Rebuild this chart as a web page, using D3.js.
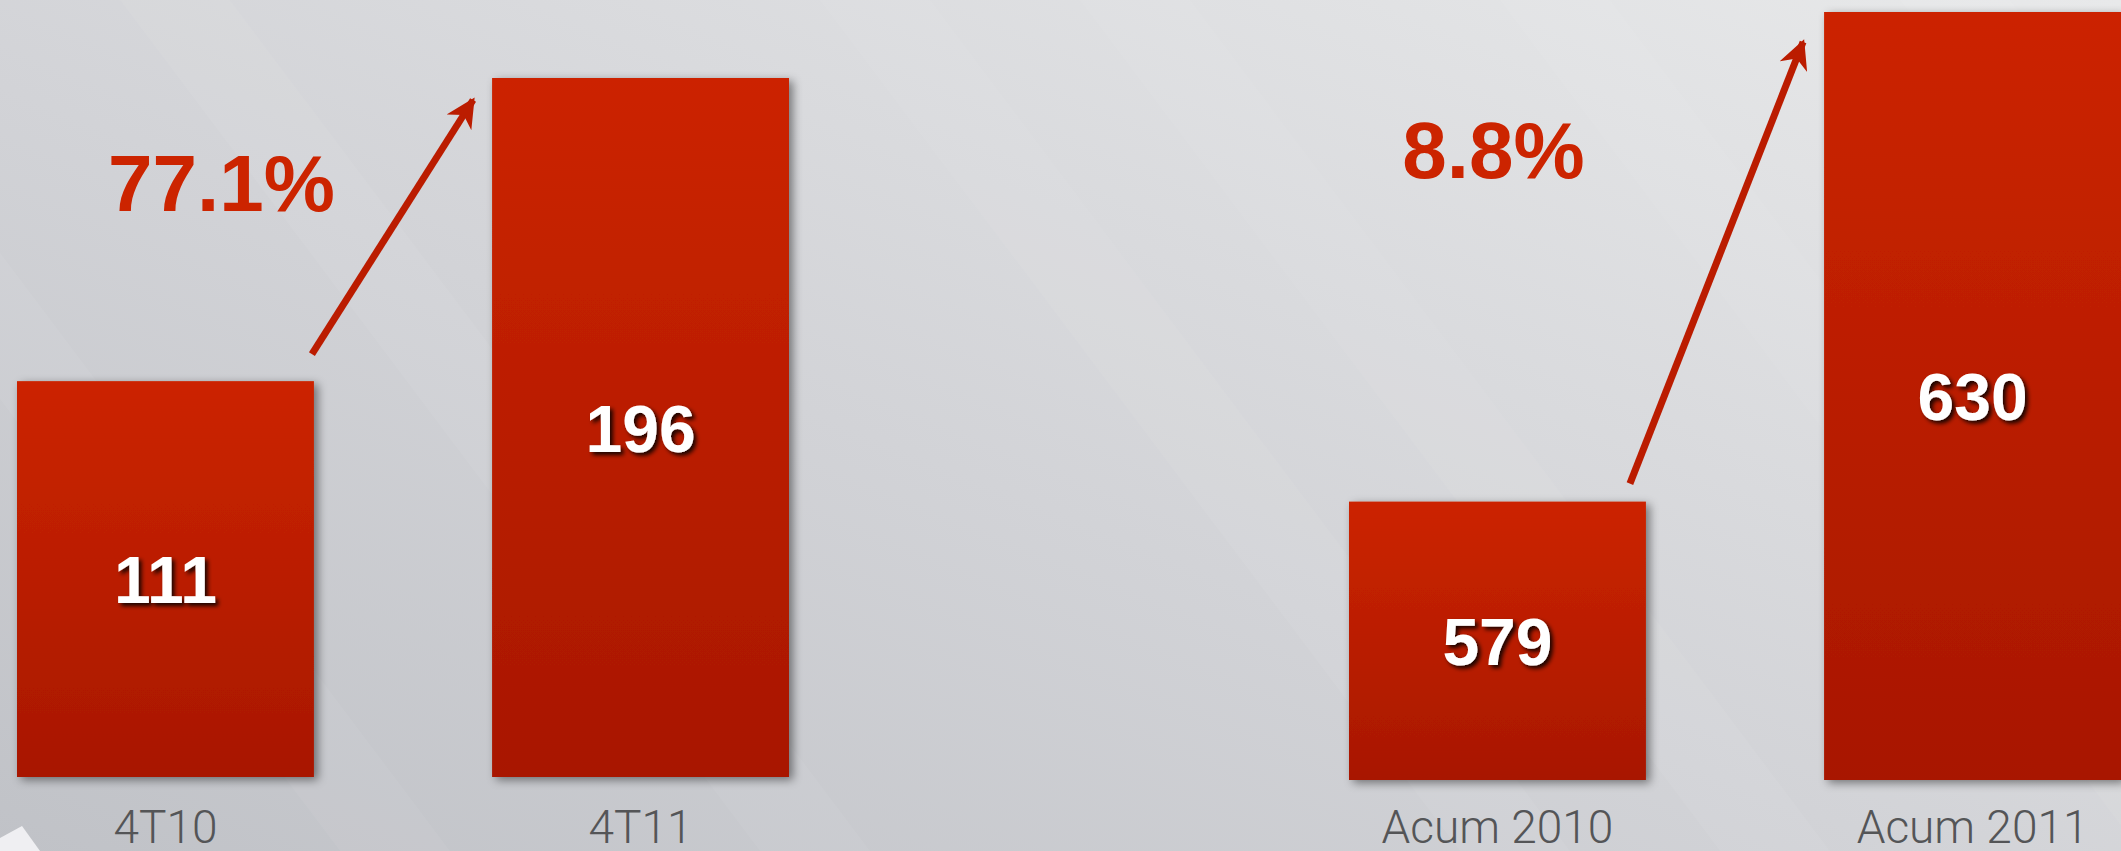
<!DOCTYPE html>
<html>
<head>
<meta charset="utf-8">
<script src="https://cdn.jsdelivr.net/npm/d3@7"></script>
<style>
  html, body { margin: 0; padding: 0; overflow: hidden; }
  svg { display: block; }
</style>
</head>
<body>
<script>
// data
const leftCats = ["4T10", "4T11"];
const leftVals = [111, 196];
const rightCats = ["Acum 2010", "Acum 2011"];
const rightVals = [579, 630];
const growthLabels = ["77.1%", "8.8%"];

const w = 2121, h = 851;

const svg = d3.select("body").append("svg")
  .attr("width", w)
  .attr("height", h);

const defs = svg.append("defs");

const bg = defs.append("linearGradient")
  .attr("id", "bg")
  .attr("x1", "0").attr("y1", "1")
  .attr("x2", "1").attr("y2", "0");
bg.append("stop").attr("offset", "0").attr("stop-color", "#c0c2c7");
bg.append("stop").attr("offset", "0.45").attr("stop-color", "#d2d3d7");
bg.append("stop").attr("offset", "1").attr("stop-color", "#e8e9ea");

const barGrad = defs.append("linearGradient")
  .attr("id", "barGrad")
  .attr("x1", "0").attr("y1", "0")
  .attr("x2", "0").attr("y2", "1");
barGrad.append("stop").attr("offset", "0").attr("stop-color", "#cc2400");
barGrad.append("stop").attr("offset", "1").attr("stop-color", "#a81700");

const shadow = defs.append("filter")
  .attr("id", "shadow")
  .attr("x", "-10%").attr("y", "-10%")
  .attr("width", "130%").attr("height", "130%");
shadow.append("feDropShadow")
  .attr("dx", 4).attr("dy", 3)
  .attr("stdDeviation", 5)
  .attr("flood-color", "#000")
  .attr("flood-opacity", 0.45);

const txtShadow = defs.append("filter")
  .attr("id", "txtShadow")
  .attr("x", "-20%").attr("y", "-20%")
  .attr("width", "150%").attr("height", "150%");
txtShadow.append("feDropShadow")
  .attr("dx", 3).attr("dy", 3)
  .attr("stdDeviation", 2)
  .attr("flood-color", "#000")
  .attr("flood-opacity", 0.85);

defs.append("marker")
  .attr("id", "head")
  .attr("viewBox", "0 0 10 10")
  .attr("refX", 9).attr("refY", 5)
  .attr("markerWidth", 4.2).attr("markerHeight", 4.2)
  .attr("markerUnits", "strokeWidth")
  .attr("orient", "auto")
  .append("path")
  .attr("d", "M0,0 L10,5 L0,10 L3,5 Z")
  .attr("fill", "#bb1c00");

// background
svg.append("rect")
  .attr("width", w).attr("height", h)
  .attr("fill", "url(#bg)");

// faint diagonal light bands
const bands = [-300, 120, 820, 1080, 1500, 1900];
svg.selectAll(".band")
  .data(bands)
  .enter()
  .append("path")
  .attr("class", "band")
  .attr("d", d => "M" + d + ",0 L" + (d + 110) + ",0 L" + (d + 110 + 640) + "," + h + " L" + (d + 640) + "," + h + " Z")
  .attr("fill", "#ffffff")
  .attr("opacity", 0.05);

// little page corner bottom-left
svg.append("path")
  .attr("d", "M0,838 L22,826 L40,851 L0,851 Z")
  .attr("fill", "#f4f4f6")
  .attr("opacity", 0.9);

// scales
const xLeft = d3.scaleBand().domain(leftCats).range([17, 789]).paddingInner(0.375);
const xRight = d3.scaleBand().domain(rightCats).range([1349, 2121]).paddingInner(0.375);
const yLeft = d3.scaleLinear().domain([0, 196]).range([777, 78]);
const yRight = d3.scaleLinear().domain([550, 630]).range([780, 12]);

function drawGroup(cats, vals, x, y, base) {
  const g = svg.append("g");
  const data = cats.map((c, i) => ({ cat: c, val: vals[i] }));

  g.selectAll("rect")
    .data(data)
    .enter()
    .append("rect")
    .attr("x", d => x(d.cat))
    .attr("y", d => y(d.val))
    .attr("width", x.bandwidth())
    .attr("height", d => y(base) - y(d.val))
    .attr("fill", "url(#barGrad)")
    .attr("filter", "url(#shadow)");

  g.selectAll(".val")
    .data(data)
    .enter()
    .append("text")
    .attr("class", "val")
    .attr("x", d => x(d.cat) + x.bandwidth() / 2)
    .attr("y", d => (y(d.val) + y(base)) / 2 + 24)
    .attr("text-anchor", "middle")
    .attr("font-family", "'Liberation Sans', Arial, sans-serif")
    .attr("font-weight", "bold")
    .attr("font-size", 66)
    .attr("fill", "#ffffff")
    .attr("filter", "url(#txtShadow)")
    .text(d => d.val);

  g.selectAll(".cat")
    .data(data)
    .enter()
    .append("text")
    .attr("class", "cat")
    .attr("x", d => x(d.cat) + x.bandwidth() / 2)
    .attr("y", 843)
    .attr("text-anchor", "middle")
    .attr("font-family", "Roboto, 'Liberation Sans', sans-serif")
    .attr("font-weight", 300)
    .attr("font-size", 46)
    .attr("fill", "#545557")
    .text(d => d.cat);

  return data;
}

drawGroup(leftCats, leftVals, xLeft, yLeft, 0);
drawGroup(rightCats, rightVals, xRight, yRight, 550);

// arrows from the top of the first bar towards the second one
const arrows = [
  { x1: xLeft(leftCats[0]) + xLeft.bandwidth() - 2, y1: yLeft(leftVals[0]) - 27,
    x2: xLeft(leftCats[1]) - 19, y2: yLeft(leftVals[1]) + 22 },
  { x1: xRight(rightCats[0]) + xRight.bandwidth() - 16, y1: yRight(rightVals[0]) - 18,
    x2: xRight(rightCats[1]) - 21, y2: yRight(rightVals[1]) + 30 }
];

svg.selectAll(".arrow")
  .data(arrows)
  .enter()
  .append("line")
  .attr("class", "arrow")
  .attr("x1", d => d.x1).attr("y1", d => d.y1)
  .attr("x2", d => d.x2).attr("y2", d => d.y2)
  .attr("stroke", "#bb1c00")
  .attr("stroke-width", 7)
  .attr("marker-end", "url(#head)");

// growth labels
svg.append("text")
  .attr("x", xLeft(leftCats[0]) + xLeft.bandwidth() / 2 + 56)
  .attr("y", 211)
  .attr("text-anchor", "middle")
  .attr("font-family", "'Liberation Sans', Arial, sans-serif")
  .attr("font-weight", "bold")
  .attr("font-size", 80)
  .attr("fill", "#cc2400")
  .text(growthLabels[0]);

svg.append("text")
  .attr("x", xRight(rightCats[0]) + xRight.bandwidth() / 2 - 4)
  .attr("y", 178)
  .attr("text-anchor", "middle")
  .attr("font-family", "'Liberation Sans', Arial, sans-serif")
  .attr("font-weight", "bold")
  .attr("font-size", 80)
  .attr("fill", "#cc2400")
  .text(growthLabels[1]);
</script>
</body>
</html>
